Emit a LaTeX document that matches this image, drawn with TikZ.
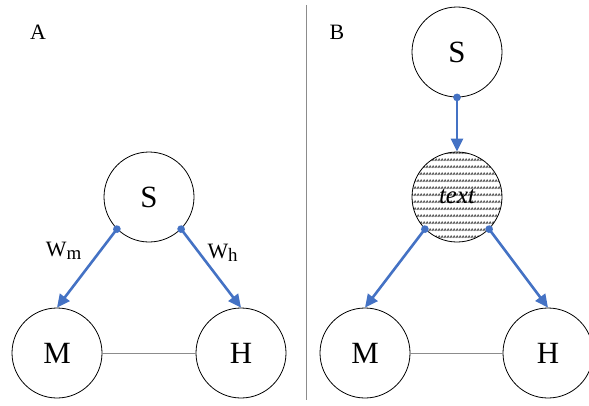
\documentclass[tikz,border=0pt]{standalone}
\usepackage{fontspec}
\setmainfont{Liberation Serif}
\usetikzlibrary{arrows.meta,patterns.meta}
\definecolor{wireblue}{RGB}{68,114,196}
\tikzdeclarepattern{
  name=zigzag rows,
  type=uncolored,
  bounding box={(0,0) and (3bp,6.6bp)},
  tile size={(3bp,6.6bp)},
  code={
    \draw[line width=1.1bp] (0bp,2.3bp) -- (1.5bp,4.3bp) -- (3bp,2.3bp);
  }
}
\tikzset{
  unit/.style={circle,draw=black,line width=0.8bp,minimum size=90bp,inner sep=0pt,
    font=\fontsize{31}{31}\selectfont},
  hidden/.style={unit,pattern=zigzag rows,pattern color=black!65,
    font=\fontsize{25}{25}\selectfont\itshape},
  wire/.style={draw=wireblue,line width=2.6bp,
    {Circle[length=7.5bp]}-{Triangle[length=13bp,width=12bp]},shorten <=-3.75bp},
  link/.style={draw=black!45,line width=0.7bp},
  panel/.style={inner sep=0pt,font=\fontsize{22}{22}\selectfont},
  weight/.style={inner sep=0pt,anchor=base west,font=\fontsize{22}{22}\selectfont}
}
\newcommand{\wsub}[1]{\raisebox{-3bp}{\fontsize{19}{19}\selectfont #1}}
\begin{document}
\begin{tikzpicture}[x=1bp,y=1bp]
  \useasboundingbox (0,0) rectangle (589,405);
%%
  % Panels
  \node[panel] (labA) at (38,372.5) {A};
  \node[panel] (labB) at (337,372.5) {B};
  \coordinate (divtop) at (306,400);
  \coordinate (divbot) at (306,5);
  \draw[black!45,line width=0.7bp] (divtop) -- (divbot);
  % Node: S, M, H (panel A)
  \node[unit] (SA) at (149,208) {S};
  \node[unit] (MA) at (57,52) {M};
  \node[unit] (HA) at (241,52) {H};
  % Node: S, text, M, H (panel B)
  \node[unit] (SB) at (457,353) {S};
  \node[hidden] (TB) at (457,208) {text};
  \node[unit] (MB) at (365,52) {M};
  \node[unit] (HB) at (548,52) {H};
  % Edge: M -- H
  \draw[link] (MA) -- (HA);
  \draw[link] (MB) -- (HB);
  % Edge: S -> M, S -> H
  \draw[wire] (SA.225) -- (MA.north);
  \draw[wire] (SA.315) -- (HA.north);
  \node[weight] (wm) at (45.7,148.3) {W\wsub{m}};
  \node[weight] (wh) at (207.3,146.7) {W\wsub{h}};
  % Edge: S -> text -> M, H
  \draw[wire] (SB.south) -- (TB.north);
  \draw[wire] (TB.225) -- (MB.north);
  \draw[wire] (TB.315) -- (HB.north);
%
\end{tikzpicture}
\end{document}
